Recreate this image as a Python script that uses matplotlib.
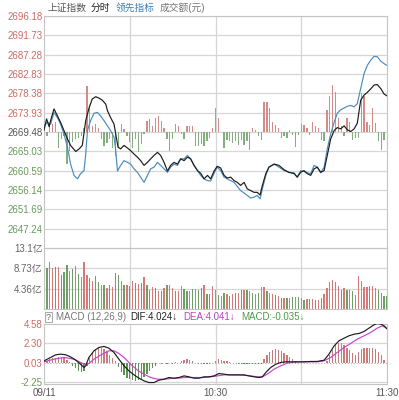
import matplotlib.pyplot as plt
import numpy as np

plt.rcParams['font.family'] = ['Liberation Sans', 'Noto Sans CJK SC', 'DejaVu Sans']
plt.rcParams['axes.unicode_minus'] = False

# ---- data (minute index 0 = 09:30, 120 = 11:30) ----
minutes = np.arange(121)

price_ticks = [2647.24, 2651.69, 2656.14, 2660.59, 2665.03, 2669.48,
               2673.93, 2678.38, 2682.83, 2687.28, 2691.73, 2696.18]
price_labels = ['2647.24', '2651.69', '2656.14', '2660.59', '2665.03', '2669.48',
                '2673.93', '2678.38', '2682.83', '2687.28', '2691.73', '2696.18']
pre_close = 2669.48

idx_t = [0.0, 0.9, 1.8, 2.3, 3.5, 4.7, 5.8, 7.0, 8.2, 9.3, 11.1, 12.3, 13.4, 14.6,
         15.8, 16.9, 18.1, 19.2, 20.4, 21.6, 22.2, 23.3, 24.5, 25.1, 25.9, 26.8,
         28.0, 29.2, 30.3, 31.5, 32.7, 33.8, 35.0, 36.2, 37.3, 38.5, 39.7, 40.8,
         42.0, 43.2, 44.3, 45.5, 46.7, 47.8, 49.0, 50.2, 51.3, 52.5, 53.7, 54.8,
         56.0, 57.2, 58.3, 59.5, 60.6, 61.8, 63.0, 64.1, 65.3, 66.5, 67.6, 68.8,
         70.0, 71.1, 72.3, 73.5, 74.6, 75.6, 76.4, 77.6, 78.7, 80.5, 82.2, 84.0,
         85.7, 87.5, 88.6, 89.8, 91.0, 92.1, 93.3, 94.5, 95.6, 96.8, 98.0, 99.1,
         100.3, 101.5, 102.6, 103.8, 105.0, 106.1, 107.3, 108.5, 109.6, 110.8,
         112.0, 113.1, 114.3, 115.5, 116.6, 117.8, 119.0, 120.0]
idx_p = [2669.9, 2672.5, 2670.7, 2672.1, 2674.8, 2673.2, 2671.7, 2669.8, 2667.9,
         2666.4, 2665.0, 2665.6, 2666.4, 2672.1, 2675.1, 2677.1, 2677.6, 2677.3,
         2676.8, 2675.9, 2674.4, 2672.8, 2671.3, 2669.0, 2666.0, 2665.6, 2666.4,
         2665.8, 2665.2, 2664.4, 2663.7, 2662.9, 2661.8, 2662.5, 2663.3, 2664.1,
         2664.8, 2664.1, 2662.5, 2660.5, 2661.8, 2662.5, 2662.1, 2663.3, 2662.9,
         2663.7, 2663.3, 2661.8, 2660.6, 2660.0, 2658.7, 2659.5, 2658.7, 2660.5,
         2661.6, 2661.2, 2659.5, 2658.9, 2659.1, 2658.3, 2657.9, 2657.2, 2657.9,
         2656.4, 2656.0, 2655.6, 2655.6, 2655.0, 2657.2, 2659.9, 2661.4, 2662.1,
         2661.8, 2660.8, 2660.2, 2659.9, 2659.1, 2660.2, 2660.6, 2659.9, 2659.5,
         2661.0, 2661.4, 2660.2, 2660.6, 2664.1, 2667.9, 2669.8, 2670.5, 2670.2,
         2670.9, 2670.0, 2669.6, 2670.2, 2671.5, 2676.8, 2678.0, 2678.6, 2679.4,
         2680.3, 2680.4, 2679.5, 2678.2, 2677.8]

lead_t = [0.0, 1.2, 2.3, 3.5, 4.7, 5.8, 7.0, 8.2, 9.3, 10.5, 11.7, 12.8, 14.0, 14.6,
          15.2, 16.3, 17.5, 18.7, 19.8, 21.0, 22.2, 23.3, 24.5, 25.1, 25.7, 26.8,
          28.0, 29.2, 30.3, 31.5, 32.7, 33.8, 35.0, 36.2, 37.3, 38.5, 39.7, 40.8,
          42.0, 43.2, 44.3, 45.5, 46.7, 47.8, 49.0, 50.2, 51.3, 52.5, 53.7, 54.8,
          56.0, 57.2, 58.3, 59.5, 60.6, 61.8, 63.0, 64.1, 66.5, 68.8, 71.1, 72.3,
          73.5, 74.6, 75.6, 76.4, 77.6, 78.7, 80.5, 82.2, 84.0, 85.7, 87.5, 88.6,
          89.8, 91.0, 92.1, 93.3, 94.5, 95.6, 96.8, 98.0, 99.1, 100.3, 101.5, 102.6,
          103.8, 105.0, 106.1, 107.3, 108.5, 109.6, 110.8, 112.0, 113.1, 114.3,
          115.5, 116.6, 117.8, 119.0, 120.0]
lead_p = [2670.9, 2671.7, 2671.3, 2674.0, 2672.8, 2671.3, 2669.0, 2666.0, 2662.1,
          2659.5, 2658.7, 2659.9, 2660.6, 2664.4, 2669.8, 2672.1, 2673.8, 2674.0,
          2673.2, 2672.1, 2670.9, 2669.8, 2668.3, 2665.2, 2660.5, 2661.8, 2662.9,
          2662.5, 2662.1, 2661.0, 2660.2, 2659.1, 2657.9, 2659.5, 2661.0, 2661.4,
          2662.5, 2661.8, 2661.0, 2660.2, 2661.4, 2662.1, 2661.8, 2663.3, 2663.3,
          2664.1, 2663.3, 2661.8, 2660.6, 2659.5, 2658.7, 2658.3, 2658.2, 2660.0,
          2661.4, 2660.6, 2659.1, 2658.7, 2657.9, 2656.0, 2654.9, 2654.3, 2654.5,
          2654.9, 2654.1, 2656.4, 2659.5, 2661.4, 2662.1, 2661.4, 2660.6, 2660.2,
          2660.1, 2659.1, 2660.6, 2660.4, 2660.1, 2659.9, 2661.8, 2661.4, 2660.1,
          2661.4, 2665.6, 2669.0, 2671.7, 2673.8, 2674.6, 2675.0, 2675.4, 2675.6,
          2675.3, 2676.0, 2679.5, 2683.0, 2684.8, 2686.0, 2686.9, 2686.8, 2685.8,
          2685.2, 2684.8]

# buy/sell strength bars around the previous close (price units)
power = [0, -0.9, 1.7, 1.8, 2.3, -3.6, -1.7, -1.0, -7.4, -4.4,
         -2.4, -1.7, -1.3, -0.9, 1.0, 10.5, 6.3, 1.4, 1.8, 1.0,
         -1.7, -3.2, -2.5, -1.7, -3.6, -5.5, -3.6, 1.9, 0.6, -0.9,
         -2.4, -3.6, -1.7, -4.7, -2.8, -0.5, 2.5, 2.9, 1.4, 3.3,
         3.7, 2.5, 1.0, -1.7, -4.4, -1.7, 1.9, 1.4, -0.5, -1.7,
         1.4, 1.4, 1.4, -3.2, -3.2, -2.8, -3.2, -2.1, -1.3, 1.0,
         5.5, 3.2, 0, -3.7, -1.8, -2.1, -2.5, -2.1, -2.9, -1.8,
         -2.9, -2.1, -4.1, 0.9, 0.5, -1.0, -1.8, 7.0, 7.0, 5.5,
         2.4, 1.7, 0.9, -1.4, -1.0, -1.4, 0.5, -0.6, -3.4, -0.6,
         1.9, 1.7, 0.9, -0.6, 2.2, 1.5, 0.9, -1.8, -2.1, 5.1,
         8.2, 10.9, 9.3, 3.2, 1.3, -1.0, 3.2, 2.4, -1.8, -1.4,
         -1.4, 9.0, 8.2, 2.4, 1.7, 5.5, 2.1, -2.1, -4.1, -1.8,
         0]

# turnover (亿元)
vol = [12.9, 8.9, 10.2, 8.9, 9.0, 9.0, 7.4, 8.0, 9.5, 8.1,
       8.5, 9.2, 7.6, 6.8, 10.2, 7.4, 6.7, 6.0, 7.1, 5.8,
       5.1, 5.1, 4.5, 5.1, 4.7, 7.8, 7.4, 6.1, 5.1, 5.2,
       4.9, 6.0, 5.6, 5.4, 5.6, 6.8, 5.1, 4.1, 4.7, 4.5,
       3.9, 3.8, 4.5, 5.2, 5.1, 4.5, 3.8, 3.8, 4.9, 4.3,
       3.8, 3.9, 4.3, 4.4, 4.1, 4.5, 5.2, 3.2, 3.2, 4.9,
       4.1, 3.1, 2.7, 3.4, 3.3, 2.7, 3.2, 3.4, 3.4, 4.1,
       4.1, 4.1, 3.9, 3.4, 3.2, 3.4, 4.7, 4.7, 3.8, 3.4,
       3.2, 3.1, 2.7, 2.3, 2.3, 2.3, 2.3, 2.5, 2.5, 2.5,
       2.3, 2.0, 2.2, 2.2, 2.2, 2.0, 2.0, 2.3, 3.2, 4.5,
       5.8, 6.3, 5.8, 4.9, 4.1, 4.5, 4.1, 4.1, 3.8, 3.1,
       7.1, 6.1, 4.7, 4.7, 4.9, 4.9, 4.5, 4.1, 3.4, 2.7,
       2.7]
vol_up = [1, 0, 1, 1, 0, 1, 0, 0, 0, 1,
          0, 1, 0, 1, 1, 1, 0, 1, 0, 0,
          1, 0, 1, 0, 1, 0, 0, 1, 0, 1,
          0, 1, 0, 1, 0, 1, 0, 0, 1, 0,
          1, 0, 1, 0, 1, 1, 0, 1, 1, 0,
          0, 1, 0, 1, 0, 0, 1, 0, 0, 1,
          1, 0, 1, 0, 1, 0, 1, 0, 1, 0,
          1, 0, 1, 0, 1, 0, 1, 1, 0, 1,
          1, 0, 1, 0, 1, 0, 1, 0, 1, 0,
          1, 0, 1, 0, 1, 0, 1, 0, 1, 1,
          1, 1, 1, 1, 0, 1, 0, 1, 0, 1,
          1, 1, 1, 1, 0, 1, 1, 0, 0, 0,
          0]
vol_ticks = [4.36, 8.73, 13.1]
vol_labels = ['4.36亿', '8.73亿', '13.1亿']

macd_hist = [0.1, 0.3, 0.45, 0.55, 0.65, 0.7, 0.7, 0.6, 0.4, 0.1,
             -0.3, -0.6, -0.9, -1.1, -0.9, -0.3, 0.6, 1.2, 1.6, 1.8,
             1.75, 1.6, 1.4, 1.0, 0.6, 0.2, -0.5, -1.0, -1.4, -1.7,
             -1.9, -2.0, -2.1, -2.0, -1.9, -1.6, -1.3, -0.9, -0.6, -0.3,
             0.02, -0.05, 0.03, -0.05, 0.05, -0.05, 0.1, 0.05, 0.25, 0.4,
             0.45, 0.35, 0.2, 0.05, -0.05, -0.08, -0.05, -0.05, -0.05, 0.05,
             0.3, 0.5, 0.4, 0.3, 0.2, 0.1, 0.05, 0.04, -0.05, -0.05,
             -0.08, -0.1, -0.1, -0.08, -0.1, -0.1, -0.08, 0.5, 0.9, 1.3,
             1.55, 1.6, 1.55, 1.4, 1.2, 0.95, 0.7, 0.45, 0.2, 0.05,
             0.05, 0.03, -0.03, 0.03, 0.02, -0.03, 0.03, 0.02, 0.05, 0.3,
             0.9, 1.5, 2.1, 2.4, 2.35, 2.1, 1.8, 1.5, 1.2, 1.0,
             1.3, 1.6, 1.75, 1.8, 1.8, 1.75, 1.6, 1.3, 0.9, 0.4,
             -0.035]

dif_t = [0.0, 2.3, 4.1, 5.8, 7.6, 9.3, 11.1, 12.8, 14.0, 14.6, 15.7, 17.5, 19.2,
         21.0, 22.7, 24.5, 26.2, 28.0, 29.7, 31.5, 33.2, 35.0, 36.7, 38.5, 40.2,
         42.0, 43.7, 45.5, 47.2, 49.0, 50.7, 52.5, 54.2, 56.0, 57.7, 59.5, 61.2,
         63.0, 64.7, 66.5, 68.2, 70.0, 71.7, 73.5, 75.2, 76.4, 77.6, 79.3, 81.1,
         82.8, 84.6, 86.3, 88.6, 91.0, 93.3, 95.6, 98.0, 99.7, 101.5, 103.2, 105.0,
         106.7, 108.5, 110.2, 112.0, 113.7, 115.5, 116.6, 117.8, 119.0, 120.0]
dif_v = [0.26, 0.66, 0.97, 1.05, 0.97, 0.73, 0.34, -0.13, -0.52, -0.32, 0.66, 1.44,
         1.83, 1.95, 1.75, 1.24, 0.46, -0.32, -0.91, -1.38, -1.77, -2.08, -2.28,
         -2.28, -2.00, -1.89, -1.69, -1.77, -1.69, -1.50, -1.61, -1.77, -1.77,
         -1.61, -1.61, -1.50, -1.22, -1.30, -1.38, -1.38, -1.38, -1.38, -1.50,
         -1.61, -1.69, -1.61, -1.10, -0.52, -0.13, 0.07, 0.15, 0.15, 0.15, 0.15,
         0.19, 0.19, 0.34, 1.05, 2.02, 2.61, 2.92, 3.20, 3.39, 3.47, 3.71, 4.10,
         4.49, 4.64, 4.57, 4.37, 4.02]
dea_t = [0.0, 3.5, 7.0, 10.5, 14.0, 15.7, 17.5, 20.4, 22.7, 24.5, 26.2, 28.0, 30.3,
         32.7, 35.0, 37.3, 39.7, 42.0, 44.3, 46.7, 49.0, 51.3, 53.7, 56.0, 58.3,
         60.6, 63.0, 65.3, 67.6, 70.0, 72.3, 74.6, 76.4, 78.1, 80.5, 82.8, 85.1,
         87.5, 91.0, 95.6, 98.0, 100.3, 102.6, 105.0, 107.3, 109.6, 112.0, 114.3,
         116.6, 118.4, 120.0]
dea_v = [0.15, 0.46, 0.66, 0.46, -0.13, -0.05, 0.46, 1.05, 1.44, 1.44, 1.12, 0.66,
         -0.13, -0.83, -1.30, -1.69, -1.89, -1.89, -1.81, -1.77, -1.69, -1.69, -1.69,
         -1.69, -1.61, -1.50, -1.38, -1.38, -1.38, -1.42, -1.50, -1.61, -1.61, -1.30,
         -0.71, -0.32, -0.01, 0.11, 0.15, 0.15, 0.26, 0.66, 1.24, 1.83, 2.30, 2.81,
         3.20, 3.59, 4.10, 4.37, 4.04]
macd_ticks = [-2.25, 0.03, 2.30, 4.58]
macd_labels = ['-2.25', '0.03', '2.30', '4.58']

time_ticks = [0, 60, 120]
time_labels = ['09/11', '10:30', '11:30']
grid_minutes = [30, 60, 90]

# ---- colours ----
RED_TXT = '#cc6b66'
GRN_TXT = '#6a9a5c'
GRID = '#d6d6d6'
BAR_R = '#d48c8a'
BAR_G = '#86ad7e'

fig = plt.figure(figsize=(3.99, 4.0), dpi=100)
L, W = 44 / 399, 343 / 399
ax1 = fig.add_axes([L, 1 - 248 / 400, W, 232 / 400])
ax2 = fig.add_axes([L, 1 - 309 / 400, W, 61 / 400])
ax3 = fig.add_axes([L, 1 - 384 / 400, W, 60 / 400])

for ax in (ax1, ax2, ax3):
    ax.set_xlim(0, 120)
    for s in ax.spines.values():
        s.set_color('#c4c4c4')
        s.set_linewidth(0.8)
    for m in grid_minutes:
        ax.axvline(m, color=GRID, lw=0.9, zorder=0)
    ax.tick_params(axis='both', length=0, labelsize=7, pad=1.2)
    ax.set_xticks([])

# ---- main panel ----
ax1.set_ylim(2642.79, 2696.18)
ax1.set_yticks(price_ticks)
ax1.set_yticklabels(price_labels)
for t in price_ticks:
    ax1.axhline(t, color=GRID, lw=0.9, zorder=0)
for lab, t in zip(ax1.get_yticklabels(), price_ticks):
    if t > pre_close + 0.01:
        lab.set_color(RED_TXT)
    elif t < pre_close - 0.01:
        lab.set_color(GRN_TXT)
    else:
        lab.set_color('#555555')
pcol = [BAR_R if v > 0 else BAR_G for v in power]
ax1.bar(minutes, power, bottom=pre_close, width=0.45, color=pcol, zorder=2)
ax1.plot(lead_t, lead_p, color='#4b8cbc', lw=0.85, zorder=3)
ax1.plot(idx_t, idx_p, color='#1c1c1c', lw=0.85, zorder=4)

# ---- volume panel ----
ax2.set_ylim(0, 13.1)
ax2.set_yticks(vol_ticks)
ax2.set_yticklabels(vol_labels, color='#666666')
for t in vol_ticks:
    ax2.axhline(t, color=GRID, lw=0.9, zorder=0)
vcol = ['#d47a78' if u else '#6f9f66' for u in vol_up]
ax2.bar(minutes, vol, width=0.45, color=vcol, zorder=2)

# ---- MACD panel ----
ax3.set_ylim(-2.45, 4.58)
ax3.set_yticks(macd_ticks)
ax3.set_yticklabels(macd_labels)
for lab, t in zip(ax3.get_yticklabels(), macd_ticks):
    lab.set_color(RED_TXT if t > 0 else GRN_TXT)
for t in [-2.25, 2.30]:
    ax3.axhline(t, color=GRID, lw=0.9, zorder=0)
ax3.axhline(0.03, color='#aaaaaa', lw=0.8, ls=':', zorder=1)
hcol = ['#c97b79' if v > 0 else '#5f9157' for v in macd_hist]
ax3.bar(minutes, macd_hist, width=0.45, color=hcol, zorder=2)
ax3.plot(dea_t, dea_v, color='#c844c8', lw=0.85, zorder=3)
ax3.plot(dif_t, dif_v, color='#1c1c1c', lw=0.85, zorder=4)
ax3.set_xticks(time_ticks)
ax3.set_xticklabels(time_labels, color='#555555', fontsize=7)
ax3.tick_params(axis='x', pad=3)

# ---- header texts ----
ty = 1 - 8 / 400
fig.text(47 / 399, ty, '上证指数', fontsize=7, color='#555555', va='center')
fig.text(91 / 399, ty, '分时', fontsize=7, color='#222222', va='center')
fig.text(116 / 399, ty, '领先指标', fontsize=7, color='#3d7fb4', va='center')
fig.text(160 / 399, ty, '成交额(元)', fontsize=7, color='#777777', va='center')

my = 1 - 317 / 400
fig.text(46 / 399, my, '?', fontsize=6.5, color='#666666', va='center',
         bbox=dict(boxstyle='square,pad=0.1', fc='white', ec='#999999', lw=0.6))
fig.text(56 / 399, my, 'MACD (12,26,9)', fontsize=7, color='#777777', va='center')
fig.text(130 / 399, my, 'DIF:4.024↓', fontsize=7, color='#222222', va='center')
fig.text(183 / 399, my, 'DEA:4.041↓', fontsize=7, color='#c040c0', va='center')
fig.text(241 / 399, my, 'MACD:-0.035↓', fontsize=7, color='#4a9a4a', va='center')

fig.savefig('out.png', dpi=100, facecolor='white')
